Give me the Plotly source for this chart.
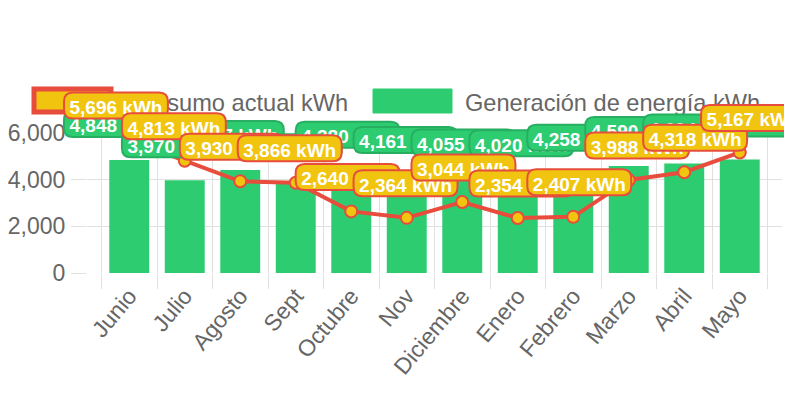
import plotly.graph_objects as go

# ---------------- data ----------------
months = ["Junio", "Julio", "Agosto", "Sept", "Octubre", "Nov", "Diciembre",
          "Enero", "Febrero", "Marzo", "Abril", "Mayo"]
generacion = [4848, 3970, 4417, 3850, 4380, 4161, 4055, 4020, 4258, 4590, 4694, 4860]
consumo = [5696, 4813, 3930, 3866, 2640, 2364, 3044, 2354, 2407, 3988, 4318, 5167]
y_ticks = [0, 2000, 4000, 6000]
y_max = 6000
legend_labels = ["Consumo actual kWh", "Generación de energía kWh"]
unit = " kWh"

# ---------------- style ----------------
PAGE_OFF = 8            # default body margin of the html page
W, H = 784, 388
L, R, T, B = 79, 10, 125, 123
GREEN = "#2ecc71"
GREEN_DARK = "#27ae60"
RED = "#e74c3c"
YELLOW = "#f1c40f"
GRAY = "#666666"
GRID = "#e0e0e0"
FONT = "Liberation Sans, Arial, Helvetica, sans-serif"
LABEL_SIZE = 19
TICK_SIZE = 23
LEGEND_SIZE = 23.6

PW = W - L - R
PH = H - T - B
NCAT = len(months)


def px(xp):
    """screen pixel (window) -> paper x"""
    return (xp - PAGE_OFF - L) / PW


def py(yp):
    """screen pixel (window) -> paper y"""
    return (H - B - (yp - PAGE_OFF)) / PH


BOLD_W = {**{d: 0.556 for d in "0123456789"}, ",": 0.278, " ": 0.278,
          "k": 0.556, "W": 0.944, "h": 0.611}


def text_w(s, size):
    return sum(BOLD_W.get(c, 0.6) for c in s) * size


def rrect(w, h, r, cy):
    x0, x1 = -w / 2, w / 2
    y0, y1 = cy - h / 2, cy + h / 2
    return (f"M{x0 + r},{y0} L{x1 - r},{y0} Q{x1},{y0} {x1},{y0 + r} "
            f"L{x1},{y1 - r} Q{x1},{y1} {x1 - r},{y1} L{x0 + r},{y1} "
            f"Q{x0},{y1} {x0},{y1 - r} L{x0},{y0 + r} Q{x0},{y0} {x0 + r},{y0} Z")


fig = go.Figure()
fig.add_bar(x=months, y=generacion, marker=dict(color=GREEN, line=dict(width=0)),
            name=legend_labels[1], showlegend=False, hoverinfo="skip")
fig.add_scatter(x=months, y=consumo, mode="lines+markers",
                line=dict(color=RED, width=4),
                marker=dict(size=12, color=YELLOW, line=dict(color=RED, width=2)),
                name=legend_labels[0], showlegend=False, hoverinfo="skip")

shapes = []

# ---- custom legend (drawn first so data labels cover it) ----
shapes.append(dict(type="rect", xref="paper", yref="paper",
                   x0=px(34), x1=px(111), y0=py(112), y1=py(89),
                   line=dict(color=RED, width=5), fillcolor=YELLOW, layer="above"))
shapes.append(dict(type="rect", xref="paper", yref="paper",
                   x0=px(121), x1=px(370), y0=py(114), y1=py(86),
                   line=dict(width=0), fillcolor="rgba(0,0,0,0)", layer="above",
                   label=dict(text=legend_labels[0], textposition="middle left", padding=0,
                              font=dict(family=FONT, size=LEGEND_SIZE, color=GRAY))))
shapes.append(dict(type="rect", xref="paper", yref="paper",
                   x0=px(373), x1=px(452), y0=py(113), y1=py(89),
                   line=dict(color=GREEN, width=1), fillcolor=GREEN, layer="above"))
shapes.append(dict(type="rect", xref="paper", yref="paper",
                   x0=px(462), x1=px(790), y0=py(114), y1=py(86),
                   line=dict(width=0), fillcolor="rgba(0,0,0,0)", layer="above",
                   label=dict(text=legend_labels[1], textposition="middle left", padding=0,
                              font=dict(family=FONT, size=LEGEND_SIZE, color=GRAY))))


def add_label(i, val, fill, border, offset):
    txt = f"{val:,}{unit}"
    w = text_w(txt, LABEL_SIZE) + 11
    h = 26
    xc = (i + 0.5) / NCAT          # category centre on the paper
    yv = val / y_max               # value on the paper
    shapes.append(dict(type="path", xref="paper", yref="paper",
                       xsizemode="pixel", ysizemode="pixel",
                       xanchor=xc, yanchor=yv, path=rrect(w, h, 9, offset),
                       line=dict(color=border, width=2), fillcolor=fill, layer="above"))
    shapes.append(dict(type="rect", xref="paper", yref="paper",
                       x0=xc - w / 2 / PW, x1=xc + w / 2 / PW,
                       y0=yv + (offset - h / 2) / PH, y1=yv + (offset + h / 2) / PH,
                       line=dict(width=0), fillcolor="rgba(0,0,0,0)", layer="above",
                       label=dict(text=txt, textposition="middle center", padding=0,
                                  font=dict(family=FONT, size=LABEL_SIZE, color="white",
                                            weight="bold"))))


for i, v in enumerate(generacion):
    add_label(i, v, GREEN, GREEN_DARK, 36)
for i, v in enumerate(consumo):
    add_label(i, v, YELLOW, RED, 34.5)

fig.update_layout(
    width=W, height=H,
    margin=dict(l=L, r=R, t=T, b=B, autoexpand=False),
    plot_bgcolor="white", paper_bgcolor="white",
    bargap=0.28, showlegend=False,
    font=dict(family=FONT, color=GRAY),
    shapes=shapes,
)
fig.update_xaxes(type="category", tickson="boundaries", showgrid=True, gridcolor=GRID,
                 ticks="outside", ticklen=15, tickcolor=GRID, tickangle=-50,
                 ticklabelstandoff=4,
                 tickfont=dict(family=FONT, size=TICK_SIZE, color=GRAY),
                 showline=False, zeroline=False, fixedrange=True)
fig.update_yaxes(range=[0, y_max], tickvals=y_ticks, tickformat=",", showgrid=True,
                 gridcolor=GRID, ticks="outside", ticklen=15, tickcolor=GRID,
                 tickfont=dict(family=FONT, size=TICK_SIZE, color=GRAY),
                 zeroline=False, ticklabelstandoff=1, fixedrange=True)

fig.write_html("out.html", config={"displayModeBar": False})
